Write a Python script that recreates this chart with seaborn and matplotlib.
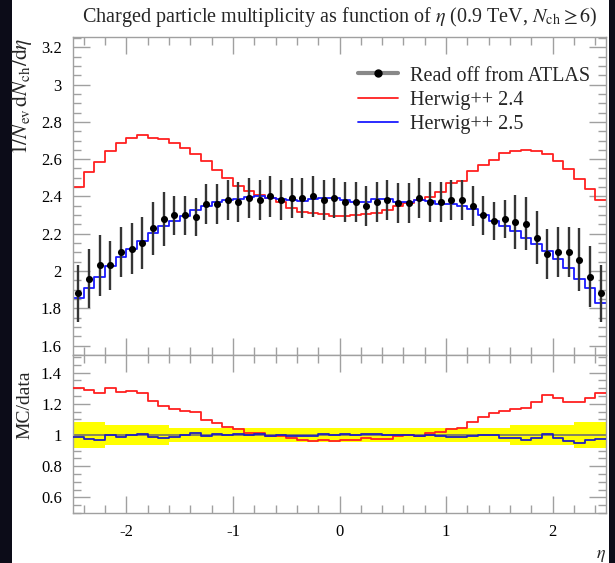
import matplotlib.pyplot as plt
import numpy as np
import pandas as pd
import seaborn as sns
from matplotlib.lines import Line2D
from matplotlib.patches import Rectangle
from matplotlib.ticker import MultipleLocator

# 50 bins of 0.1 in eta, from -2.5 to 2.5
eta_lo, eta_hi, n_bins = -2.5, 2.5, 50

atlas = [1.88, 1.96, 2.03, 2.03, 2.10, 2.12, 2.15, 2.23, 2.28, 2.30,
         2.30, 2.29, 2.36, 2.36, 2.38, 2.37, 2.39, 2.38, 2.40, 2.38,
         2.39, 2.39, 2.40, 2.38, 2.39, 2.37, 2.37, 2.35, 2.37, 2.38,
         2.365, 2.365, 2.39, 2.37, 2.37, 2.38, 2.38, 2.35, 2.30, 2.27,
         2.28, 2.265, 2.255, 2.18, 2.09, 2.10, 2.10, 2.06, 1.97, 1.88]
atlas_err = [0.155, 0.160, 0.165, 0.130, 0.134, 0.136, 0.138, 0.143, 0.146, 0.104,
             0.104, 0.103, 0.106, 0.106, 0.107, 0.107, 0.108, 0.107, 0.108, 0.107,
             0.108, 0.108, 0.108, 0.107, 0.108, 0.107, 0.107, 0.106, 0.107, 0.107,
             0.106, 0.106, 0.108, 0.107, 0.107, 0.107, 0.107, 0.106, 0.104, 0.102,
             0.103, 0.145, 0.144, 0.140, 0.134, 0.134, 0.134, 0.169, 0.162, 0.155]
herwig24 = [2.449, 2.530, 2.583, 2.646, 2.686, 2.714, 2.727, 2.712, 2.709, 2.686,
            2.661, 2.628, 2.589, 2.542, 2.499, 2.458, 2.427, 2.410, 2.392, 2.368,
            2.338, 2.315, 2.309, 2.306, 2.297, 2.297, 2.300, 2.306, 2.309, 2.327,
            2.351, 2.363, 2.381, 2.395, 2.422, 2.470, 2.485, 2.539, 2.566, 2.596,
            2.632, 2.642, 2.650, 2.642, 2.628, 2.592, 2.548, 2.494, 2.440, 2.381]
herwig25 = [1.858, 1.911, 1.969, 2.028, 2.073, 2.118, 2.162, 2.202, 2.243, 2.270,
            2.297, 2.327, 2.351, 2.372, 2.381, 2.386, 2.395, 2.400, 2.390, 2.385,
            2.380, 2.375, 2.385, 2.390, 2.390, 2.381, 2.370, 2.370, 2.386, 2.386,
            2.368, 2.372, 2.380, 2.376, 2.360, 2.357, 2.351, 2.333, 2.302, 2.270,
            2.243, 2.216, 2.177, 2.145, 2.108, 2.064, 2.016, 1.957, 1.911, 1.831]

labels = ["Read off from ATLAS", "Herwig++ 2.4", "Herwig++ 2.5"]

edges = np.linspace(eta_lo, eta_hi, n_bins + 1)
bin_list = [float(e) for e in edges]
df = pd.DataFrame({"eta": 0.5 * (edges[:-1] + edges[1:]),
                   "atlas": atlas, "err": atlas_err,
                   "h24": herwig24, "h25": herwig25})
df["r24"] = df["h24"] / df["atlas"]
df["r25"] = df["h25"] / df["atlas"]
df["rel"] = df["err"] / df["atlas"]

sns.set_style("ticks")
plt.rcParams["font.family"] = ["Liberation Serif", "DejaVu Serif"]
plt.rcParams["mathtext.fontset"] = "stix"
frame_col = "#a0a0a0"
plt.rcParams.update({"axes.edgecolor": frame_col, "xtick.color": frame_col,
                     "ytick.color": frame_col, "xtick.labelcolor": "black",
                     "ytick.labelcolor": "black", "axes.linewidth": 1.0})

fig = plt.figure(figsize=(6.15, 5.63), dpi=100)
fig.patch.set_facecolor("#0c0c18")
fig.add_artist(Rectangle((12 / 615, 0), 597 / 615, 1, transform=fig.transFigure,
                         facecolor="white", edgecolor="none", zorder=-10))

ax1 = fig.add_axes([0.1187, 0.3694, 0.8667, 0.5646])
ax2 = fig.add_axes([0.1187, 0.0888, 0.8667, 0.2806], sharex=ax1)

# upper panel
sns.histplot(data=df, x="eta", weights="h24", bins=bin_list, element="step",
             fill=False, color="#ff2020", linewidth=1.3, ax=ax1)
sns.histplot(data=df, x="eta", weights="h25", bins=bin_list, element="step",
             fill=False, color="#1a1aff", linewidth=1.3, ax=ax1)
ax1.errorbar(df["eta"], df["atlas"], yerr=df["err"], fmt="none",
             ecolor="#353535", elinewidth=1.7, capsize=0, zorder=4)
sns.scatterplot(data=df, x="eta", y="atlas", color="black", s=26,
                edgecolor="black", linewidth=0, ax=ax1, zorder=5, legend=False)
ax1.set_ylim(1.55, 3.254)
ax1.set_xlim(eta_lo, eta_hi)
ax1.set_title(r"Charged particle multiplicity as function of $\eta$ (0.9 TeV, $N_{\mathrm{ch}} \geq 6$)",
              fontsize=14.5, pad=11)
ax1.set_ylabel(r"$1/N_{\mathrm{ev}}\,\mathrm{d}N_{\mathrm{ch}}/\mathrm{d}\eta$", fontsize=15.5, loc="top")
ax1.yaxis.set_label_coords(-0.074, 1.0)
ax1.set_xlabel("")
ax1.tick_params(labelbottom=False)

handles = [Line2D([], [], color="#888888", lw=3, marker="o", ms=5, mfc="black", mec="black"),
           Line2D([], [], color="#ff2020", lw=1.3),
           Line2D([], [], color="#1a1aff", lw=1.3)]
ax1.legend(handles, labels, loc="upper left", bbox_to_anchor=(0.5, 0.965), frameon=False,
           fontsize=14.5, handlelength=2.0, handletextpad=0.6, labelspacing=0.25)

# ratio panel
ax2.stairs(1 + df["rel"], edges, baseline=1 - df["rel"], fill=True,
           color="#ffff00", linewidth=0, zorder=1)
ax2.axhline(1.0, color="#707070", lw=1.2, zorder=2)
sns.histplot(data=df, x="eta", weights="r24", bins=bin_list, element="step",
             fill=False, color="#ff2020", linewidth=1.3, ax=ax2, zorder=3)
sns.histplot(data=df, x="eta", weights="r25", bins=bin_list, element="step",
             fill=False, color="#2020c0", linewidth=1.3, ax=ax2, zorder=3)
ax2.set_ylim(0.5, 1.513)
ax2.set_xlim(eta_lo, eta_hi)
ax2.set_ylabel("MC/data", fontsize=14, loc="top")
ax2.yaxis.set_label_coords(-0.074, 0.9)
ax2.set_xlabel(r"$\eta$", fontsize=13, loc="right", labelpad=5)

for ax in (ax1, ax2):
    ax.xaxis.set_major_locator(MultipleLocator(1.0))
    ax.xaxis.set_minor_locator(MultipleLocator(0.2))
    ax.yaxis.set_major_locator(MultipleLocator(0.2))
    ax.yaxis.set_minor_locator(MultipleLocator(0.05))
    ax.tick_params(which="both", direction="in", top=True, right=True, labelsize=12)
    ax.tick_params(which="major", length=12, width=1.0, pad=8)
    ax.tick_params(which="minor", length=6, width=1.0)
    ax.yaxis.set_major_formatter(plt.FuncFormatter(lambda v, p: f"{v:g}"))
    ax.xaxis.set_major_formatter(plt.FuncFormatter(lambda v, p: f"{v:g}"))
    ax.set_facecolor("white")

fig.savefig("out.png", dpi=100, facecolor=fig.get_facecolor())
